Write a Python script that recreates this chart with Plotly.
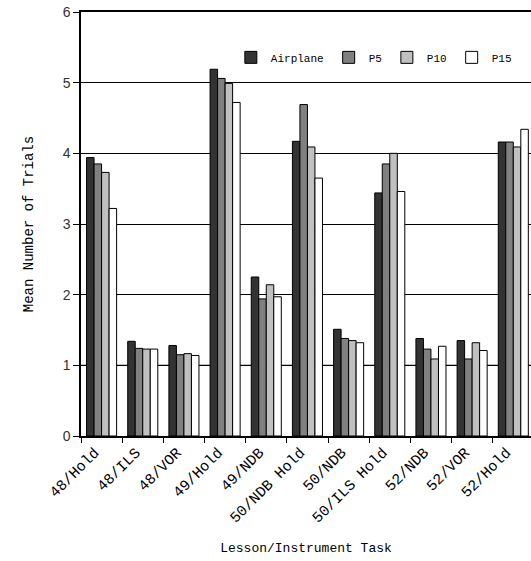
import plotly.graph_objects as go

categories = ["48/Hold", "48/ILS", "48/VOR", "49/Hold", "49/NDB", "50/NDB Hold",
              "50/NDB", "50/ILS Hold", "52/NDB", "52/VOR", "52/Hold"]
airplane = [3.94, 1.34, 1.28, 5.19, 2.25, 4.17, 1.51, 3.44, 1.38, 1.35, 4.16]
p5 = [3.85, 1.24, 1.15, 5.06, 1.94, 4.69, 1.38, 3.85, 1.23, 1.09, 4.16]
p10 = [3.73, 1.23, 1.165, 4.99, 2.14, 4.09, 1.35, 4.00, 1.09, 1.32, 4.09]
p15 = [3.22, 1.23, 1.14, 4.72, 1.97, 3.65, 1.32, 3.46, 1.27, 1.21, 4.34]
series_names = ["Airplane", "P5", "P10", "P15"]
series_values = [airplane, p5, p10, p15]
colors = ["#333333", "#808080", "#C0C0C0", "#FFFFFF"]
y_ticks = [0, 1, 2, 3, 4, 5, 6]

mono = "Liberation Mono"
fig = go.Figure()
for name, vals, col in zip(series_names, series_values, colors):
    fig.add_trace(go.Bar(name=name, x=categories, y=vals, marker_color=col,
                         marker_line_color="#000000", marker_line_width=1))

# lighter grid line at 1
fig.add_shape(type="line", xref="paper", yref="y", x0=0, x1=1, y0=1, y1=1,
              line=dict(color="#808080", width=1.5), layer="below")

fig.update_layout(
    width=531, height=561,
    margin=dict(l=81, r=0, t=12, b=125),
    paper_bgcolor="white", plot_bgcolor="white",
    barmode="group", bargap=0.27, bargroupgap=0,
    legend=dict(orientation="h", x=0.333, y=0.893, xanchor="left", yanchor="middle",
                font=dict(family=mono, size=11, color="#000000"),
                bgcolor="rgba(0,0,0,0)", itemwidth=30, tracegroupgap=0),
    xaxis=dict(range=[-0.5, 10.43], tickson="boundaries", ticks="outside", ticklen=5,
               tickcolor="#000000", showline=True, linecolor="#000000", linewidth=1.5,
               mirror=True, tickangle=-45, automargin=False, ticklabelshift=-7,
               tickfont=dict(family=mono, size=15, color="#000000"),
               title=dict(text="Lesson/Instrument Task",
                          font=dict(family=mono, size=13, color="#000000"), standoff=17)),
    yaxis=dict(range=[0, 6], tickvals=y_ticks, ticks="outside", ticklen=6,
               tickcolor="#000000", showline=True, linecolor="#000000", linewidth=1.5,
               showgrid=True, gridcolor="#000000", gridwidth=1.2, zeroline=False,
               automargin=False, ticklabeloverflow="allow",
               tickfont=dict(family="Liberation Sans", size=14, color="#333333"),
               title=dict(text="Mean Number of Trials",
                          font=dict(family=mono, size=14, color="#000000"), standoff=26)),
)

fig.write_html("out.html", config={"displayModeBar": False},
               post_script="document.body.style.margin='0';document.body.style.overflow='hidden';")
